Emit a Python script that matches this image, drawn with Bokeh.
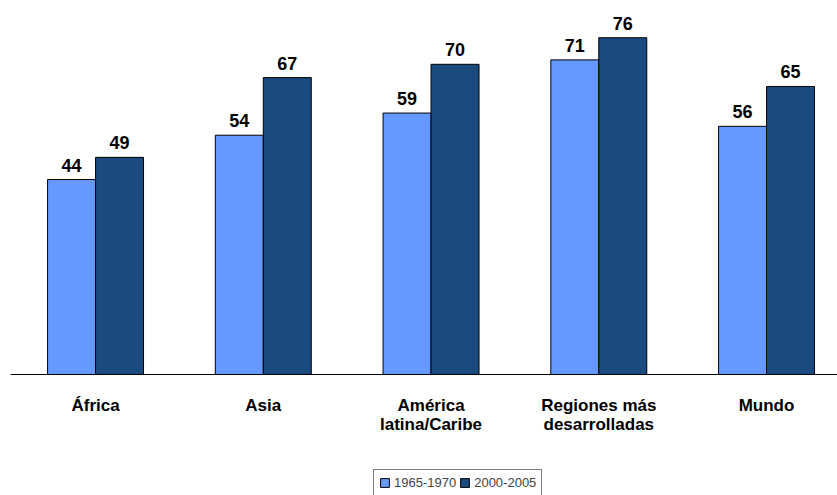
from bokeh.plotting import figure
from bokeh.models import ColumnDataSource, LabelSet, Legend, LegendItem, Span
from bokeh.core.properties import value
from bokeh.embed import file_html
from bokeh.resources import INLINE

categories = ["África", "Asia", "América\nlatina/Caribe", "Regiones más\ndesarrolladas", "Mundo"]
series_names = ["1965-1970", "2000-2005"]
values_1965 = [44, 54, 59, 71, 56]
values_2000 = [49, 67, 70, 76, 65]

light = "#6699FF"
dark = "#1B4A7E"
font = "Liberation Sans"

idx = list(range(len(categories)))
bw = 0.286
src1 = ColumnDataSource(dict(x=[i - bw / 2 for i in idx], y=values_1965, t=[str(v) for v in values_1965]))
src2 = ColumnDataSource(dict(x=[i + bw / 2 for i in idx], y=values_2000, t=[str(v) for v in values_2000]))

line1 = [c.split("\n")[0] for c in categories]
line2 = [c.split("\n")[1] if "\n" in c else "" for c in categories]
src_l1 = ColumnDataSource(dict(x=idx, y=[0] * len(idx), t=line1))
src_l2 = ColumnDataSource(dict(x=idx, y=[0] * len(idx), t=line2))

p = figure(width=837, height=495, output_backend="svg", toolbar_location=None,
           x_range=(-0.507, 4.423), y_range=(-27.31, 84.4),
           x_axis_location=None, y_axis_location=None,
           min_border_left=10, min_border_right=0,
           min_border_top=0, min_border_bottom=0)
p.outline_line_color = None
p.grid.visible = False
p.background_fill_color = "white"

r1 = p.vbar(x="x", top="y", width=bw, source=src1, fill_color=light, line_color="black", line_width=1)
r2 = p.vbar(x="x", top="y", width=bw, source=src2, fill_color=dark, line_color="black", line_width=1)

p.add_layout(Span(location=0, dimension="width", line_color="black", line_width=1))

for s in (src1, src2):
    p.add_layout(LabelSet(x="x", y="y", text="t", source=s, y_offset=8,
                          text_align="center", text_baseline="alphabetic",
                          text_font=value(font), text_font_style="bold", text_font_size="18px",
                          text_color="black"))

for s, off in ((src_l1, -22), (src_l2, -41)):
    p.add_layout(LabelSet(x="x", y="y", text="t", source=s, y_offset=off,
                          text_align="center", text_baseline="top",
                          text_font=value(font), text_font_style="bold", text_font_size="17px",
                          text_color="black"))

legend = Legend(items=[LegendItem(label=series_names[0], renderers=[r1]),
                       LegendItem(label=series_names[1], renderers=[r2])],
                orientation="horizontal", location=(363, -1),
                label_text_font=font, label_text_font_size="13px",
                glyph_width=11, glyph_height=11, spacing=3,
                label_standoff=4, padding=5, margin=0,
                border_line_color="black", border_line_width=1,
                background_fill_alpha=1)
p.add_layout(legend)

open("out.html", "w").write(file_html(p, INLINE))
